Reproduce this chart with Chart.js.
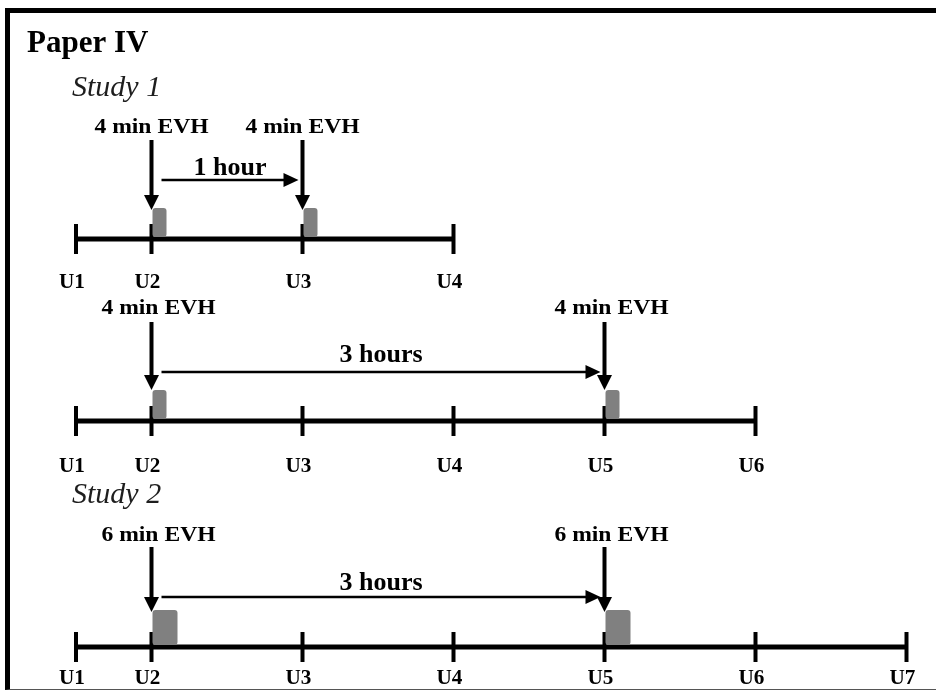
<!DOCTYPE html>
<html>
<head>
<meta charset="utf-8">
<title>Paper IV</title>
<script src="https://cdn.jsdelivr.net/npm/chart.js@4.4.1/dist/chart.umd.min.js"></script>
<style>
  html, body { margin: 0; padding: 0; background: #fff; }
  #wrap { position: relative; width: 936px; height: 691px; }
  #frame {
    position: absolute; left: 5px; top: 8px; width: 931px; height: 682px;
    box-sizing: border-box;
    border-top: 5px solid #000; border-left: 5px solid #000; border-bottom: 1px solid #555;
    pointer-events: none;
  }
</style>
</head>
<body>
<div id="wrap">
  <canvas id="timeline"></canvas>
  <div id="frame"></div>
</div>
<script>
/* DATA */
const timepoints = ["U1", "U2", "U3", "U4", "U5", "U6", "U7"];
const timeHours = [0, 0.5, 1.5, 2.5, 3.5, 4.5, 5.5];      // hours from U1
const protocols = ["Study 1, 1 hour", "Study 1, 3 hours", "Study 2, 3 hours"];
const protocolPoints = [4, 6, 7];                          // samples per protocol
const evhProtocol = [0, 0, 1, 1, 2, 2];
const evhAtHours = [0.5, 1.5, 0.5, 3.5, 0.5, 3.5];
const evhMinutes = [4, 4, 4, 4, 6, 6];
const gapLabels = ["1 hour", "3 hours", "3 hours"];
const gapFrom = [0.5, 0.5, 0.5];
const gapTo = [1.5, 3.5, 3.5];
const title = "Paper IV";
const studyNames = ["Study 1", "Study 2"];

/* LAYOUT (pixels, y scale runs 0..691 top-down) */
const rows = [
  { line: 239, evhText: 133, arrowTop: 140, arrowTip: 210, gap: 180, gapText: 175, uText: 288, evhDx: 0 },
  { line: 421, evhText: 314, arrowTop: 322, arrowTip: 390, gap: 372, gapText: 362, uText: 472, evhDx: 7 },
  { line: 647, evhText: 541, arrowTop: 547, arrowTip: 612, gap: 597, gapText: 590, uText: 684, evhDx: 7 }
];
const studyRowY = [96, 503];
const SERIF = "'Liberation Serif', 'Times New Roman', serif";

function put(ctx, text, px, py, font, sx = 1, align = "center", color = "#000") {
    ctx.save();
    ctx.font = font;
    ctx.fillStyle = color;
    ctx.textAlign = align;
    ctx.textBaseline = "alphabetic";
    ctx.translate(px, py);
    ctx.scale(sx, 1);
    ctx.fillText(text, 0, 0);
    ctx.restore();
}

function roundRect(ctx, x, y, w, h, r) {
    ctx.beginPath();
    ctx.moveTo(x + r, y);
    ctx.lineTo(x + w - r, y);
    ctx.quadraticCurveTo(x + w, y, x + w, y + r);
    ctx.lineTo(x + w, y + h - r);
    ctx.quadraticCurveTo(x + w, y + h, x + w - r, y + h);
    ctx.lineTo(x + r, y + h);
    ctx.quadraticCurveTo(x, y + h, x, y + h - r);
    ctx.lineTo(x, y + r);
    ctx.quadraticCurveTo(x, y, x + r, y);
    ctx.closePath();
}

/* plugin: EVH boxes, arrows and all text */
const diagram = {
    id: "diagram",
    afterDatasetsDraw(chart) {
        const { ctx, scales: { x, y } } = chart;

        put(ctx, title, 27, 52, `bold 31px ${SERIF}`, 1, "left");
        studyNames.forEach((s, i) =>
            put(ctx, s, 72, studyRowY[i], `italic 30px ${SERIF}`, 1, "left", "#1e1e1e"));

        // U labels
        protocols.forEach((p, r) => {
            for (let i = 0; i < protocolPoints[r]; i++) {
                put(ctx, timepoints[i], x.getPixelForValue(timeHours[i]) - 4,
                    y.getPixelForValue(rows[r].uText), `bold 20px ${SERIF}`, 1.06);
            }
        });

        // EVH boxes + arrows + labels
        evhAtHours.forEach((t, k) => {
            const row = rows[evhProtocol[k]];
            const px = x.getPixelForValue(t);
            const base = y.getPixelForValue(row.line);
            const w = evhMinutes[k] * 5.5 - 8;
            const h = evhMinutes[k] * 3 + 17;
            ctx.fillStyle = "#808080";
            roundRect(ctx, px + 1, base - 2 - h, w, h, 3);
            ctx.fill();

            const top = y.getPixelForValue(row.arrowTop);
            const tip = y.getPixelForValue(row.arrowTip);
            ctx.strokeStyle = "#000";
            ctx.fillStyle = "#000";
            ctx.lineWidth = 4;
            ctx.beginPath();
            ctx.moveTo(px, top);
            ctx.lineTo(px, tip - 12);
            ctx.stroke();
            ctx.beginPath();
            ctx.moveTo(px - 7.5, tip - 15);
            ctx.lineTo(px + 7.5, tip - 15);
            ctx.lineTo(px, tip);
            ctx.closePath();
            ctx.fill();

            put(ctx, evhMinutes[k] + " min EVH", px + row.evhDx,
                y.getPixelForValue(row.evhText), `bold 20px ${SERIF}`, 1.18);
        });

        // interval arrows
        gapLabels.forEach((lbl, r) => {
            const row = rows[r];
            const x0 = x.getPixelForValue(gapFrom[r]) + 10;
            const x1 = x.getPixelForValue(gapTo[r]) - 4;
            const gy = y.getPixelForValue(row.gap);
            ctx.strokeStyle = "#000";
            ctx.fillStyle = "#000";
            ctx.lineWidth = 2.5;
            ctx.beginPath();
            ctx.moveTo(x0, gy);
            ctx.lineTo(x1 - 12, gy);
            ctx.stroke();
            ctx.beginPath();
            ctx.moveTo(x1 - 15, gy - 7);
            ctx.lineTo(x1 - 15, gy + 7);
            ctx.lineTo(x1, gy);
            ctx.closePath();
            ctx.fill();
            put(ctx, lbl, (x0 + x1) / 2, y.getPixelForValue(row.gapText), `bold 26px ${SERIF}`);
        });
    }
};

/* CHART */
const timelineSets = protocols.map((name, r) => ({
    label: name,
    data: timepoints.slice(0, protocolPoints[r]).map((u, i) => ({ x: timeHours[i], y: rows[r].line })),
    showLine: true,
    borderColor: "#000",
    borderWidth: 5,
    pointStyle: "line",
    pointRadius: 15,
    pointHoverRadius: 15,
    pointRotation: 90,
    pointBorderColor: "#000",
    pointBorderWidth: 4,
    pointHoverBorderWidth: 4
}));

new Chart(document.getElementById("timeline"), {
    type: "scatter",
    data: { datasets: timelineSets },
    options: {
        responsive: true,
        maintainAspectRatio: false,
        animation: false,
        events: [],
        layout: { padding: 0, autoPadding: false },
        plugins: { legend: { display: false }, title: { display: false }, tooltip: { enabled: false } },
        scales: {
            x: { type: "linear", display: false, min: -76 / 151, max: (936 - 76) / 151 },
            y: { type: "linear", display: false, min: 0, max: 691, reverse: true }
        }
    },
    plugins: [diagram]
});
</script>
</body>
</html>
